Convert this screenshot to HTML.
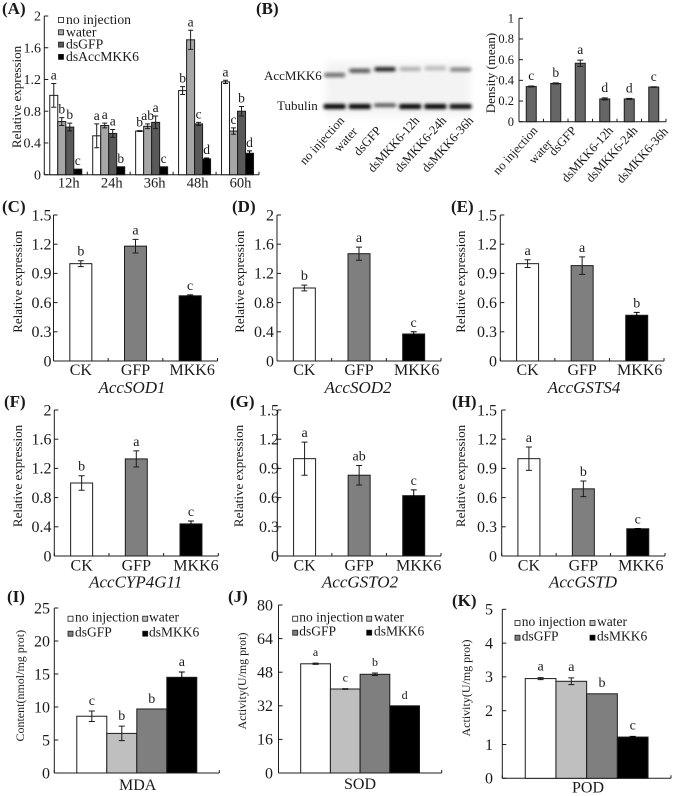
<!DOCTYPE html>
<html>
<head>
<meta charset="utf-8">
<title>AccMKK6 figure</title>
<style>
html,body{margin:0;padding:0;background:#fff;width:674px;height:796px;overflow:hidden}
svg{display:block;filter:blur(0.35px)}
text{font-family:"Liberation Serif",serif;fill:#1a1a1a}
.pl{font-weight:bold;font-size:17px}
</style>
</head>
<body>
<svg id="fig" xmlns="http://www.w3.org/2000/svg" width="674" height="796" viewBox="0 0 674 796">
<defs>
<filter id="blurBand" x="-30%" y="-150%" width="160%" height="400%"><feGaussianBlur stdDeviation="1.5"/></filter>
<filter id="blurBg" x="-10%" y="-30%" width="120%" height="160%"><feGaussianBlur stdDeviation="4"/></filter>
</defs>
<text class="pl" x="2" y="14">(A)</text>
<text class="pl" x="256" y="14">(B)</text>
<text class="pl" x="2" y="212">(C)</text>
<text class="pl" x="232" y="212">(D)</text>
<text class="pl" x="451" y="212">(E)</text>
<text class="pl" x="4" y="407">(F)</text>
<text class="pl" x="230" y="407">(G)</text>
<text class="pl" x="452" y="407">(H)</text>
<text class="pl" x="7" y="602">(I)</text>
<text class="pl" x="228" y="602">(J)</text>
<text class="pl" x="452" y="606">(K)</text>
</svg>
<script>
// ---- Panel A data ----
const aCategories = ['12h', '24h', '36h', '48h', '60h'];
const aTicks = ['0', '0.4', '0.8', '1.2', '1.6', '2'];
const aNoInjection = [1.0, 0.49, 0.55, 1.06, 1.17];
const aWater = [0.67, 0.62, 0.61, 1.7, 0.55];
const aDsGFP = [0.6, 0.52, 0.66, 0.64, 0.8];
const aDsMKK6 = [0.07, 0.1, 0.1, 0.2, 0.27];
const aNoInjectionErr = [0.15, 0.15, 0.005, 0.05, 0.02];
const aWaterErr = [0.05, 0.03, 0.03, 0.12, 0.04];
const aDsGFPErr = [0.05, 0.05, 0.08, 0.02, 0.06];
const aDsMKK6Err = [0, 0, 0, 0.01, 0.03];
const aNoInjectionLetters = ['a', 'a', 'b', 'b', 'a'];
const aWaterLetters = ['b', 'a', 'ab', 'a', 'c'];
const aDsGFPLetters = ['b', 'a', 'a', 'c', 'b'];
const aDsMKK6Letters = ['c', 'b', 'c', 'd', 'd'];
// ---- Panel B data ----
const bCategories = ['no injection', 'water', 'dsGFP', 'dsMKK6-12h', 'dsMKK6-24h', 'dsMKK6-36h'];
const bTicks = ['0', '0.2', '0.4', '0.6', '0.8', '1'];
const bValues = [0.34, 0.37, 0.565, 0.22, 0.22, 0.335];
const bErrors = [0.005, 0.005, 0.03, 0.01, 0.005, 0.003];
const bLetters = ['c', 'b', 'a', 'd', 'd', 'c'];
const blotTargetDensity = [0.62, 0.72, 1, 0.3, 0.26, 0.5];
const blotTubulinDensity = [1, 1, 0.7, 1, 1, 0.95];
// ---- Panels C-H data ----
const geneCategories = ['CK', 'GFP', 'MKK6'];
const ticks15 = ['0', '0.3', '0.6', '0.9', '1.2', '1.5'];
const ticks2 = ['0', '0.4', '0.8', '1.2', '1.6', '2'];
const cValues = [1.0, 1.18, 0.67];
const cErrors = [0.03, 0.07, 0.01];
const cLetters = ['b', 'a', 'c'];
const dValues = [1.0, 1.47, 0.37];
const dErrors = [0.04, 0.09, 0.03];
const dLetters = ['b', 'a', 'c'];
const eValues = [1.0, 0.98, 0.47];
const eErrors = [0.04, 0.09, 0.03];
const eLetters = ['a', 'a', 'b'];
const fValues = [1.0, 1.33, 0.44];
const fErrors = [0.1, 0.11, 0.04];
const fLetters = ['b', 'a', 'c'];
const gValues = [1.0, 0.83, 0.62];
const gErrors = [0.17, 0.1, 0.06];
const gLetters = ['a', 'ab', 'c'];
const hValues = [1.0, 0.69, 0.28];
const hErrors = [0.12, 0.08, 0.003];
const hLetters = ['a', 'b', 'c'];
// ---- Panels I-K data ----
const enzymeLegend = ['no injection', 'water', 'dsGFP', 'dsMKK6'];
const iTicks = ['0', '5', '10', '15', '20', '25'];
const iValues = [8.6, 6.0, 9.7, 14.5];
const iErrors = [0.8, 1.1, 0, 0.8];
const iLetters = ['c', 'b', 'b', 'a'];
const jTicks = ['0', '16', '32', '48', '64', '80'];
const jValues = [52, 40, 47, 32];
const jErrors = [0.3, 0.2, 0.6, 0];
const jLetters = ['a', 'c', 'b', 'd'];
const kTicks = ['0', '1', '2', '3', '4', '5'];
const kValues = [2.95, 2.87, 2.5, 1.22];
const kErrors = [0.03, 0.1, 0, 0.02];
const kLetters = ['a', 'a', 'b', 'c'];
const aLegend = ['no injection', 'water', 'dsGFP', 'dsAccMKK6'];

const fig = document.getElementById('fig');
function mk(tag, attrs, txt) {
  const n = document.createElementNS('http://www.w3.org/2000/svg', tag);
  for (const k in attrs) n.setAttribute(k, attrs[k]);
  if (txt !== undefined) n.textContent = txt;
  fig.appendChild(n);
  return n;
}
const INK = '#1c1c1c';

function drawAxes(p) {
  const yScale = v => p.y0 - v / parseFloat(p.ticks[p.ticks.length - 1]) * (p.y0 - p.yTop);
  const bandW = (p.xR - p.xL) / p.cats;
  let el = mk('line', {x1: p.xL, x2: p.xL, y1: p.yTop, y2: p.y0, stroke: INK, 'stroke-width': 1});
  
  
  el = mk('line', {x1: p.xL, x2: p.xR, y1: p.y0, y2: p.y0, stroke: INK, 'stroke-width': 1});
  
  
  p.ticks.forEach(t => {
    const y = yScale(parseFloat(t));
    let m = mk('line', {x1: p.xL, x2: p.xL + 4, y1: y, y2: y, stroke: INK, 'stroke-width': 1});
    
    
    m = mk('text', {x: p.tickRight, y: y + p.tickFont * 0.33, 'font-size': p.tickFont, 'text-anchor': 'end'}, t);
    
    
  });
  for (let i = 0; i <= p.cats; i++) {
    const x = p.xL + i * bandW;
    const m = mk('line', {x1: x, x2: x, y1: p.y0 - 3, y2: p.y0, stroke: INK, 'stroke-width': 1});
    
    
  }
  const title = mk('text', {x: 0, y: 0, 'font-size': p.titleFont, 'text-anchor': 'middle',
    transform: 'translate(' + p.titleX + ',' + p.titleY + ') rotate(-90)'}, p.title);
  
  
  return {yScale, bandW};
}

function drawBar(p, s, x, w, value, err, letter, fill) {
  const top = s.yScale(value);
  let el = mk('rect', {x: x, y: top, width: w, height: p.y0 - top, fill: fill, stroke: INK, 'stroke-width': 1});
  
  
  const cx = x + w / 2, capW = p.cap;
  const eTop = s.yScale(value + err), eBot = s.yScale(value - err);
  if (err > 0) {
    const col = fill === '#000' ? '#000' : INK;
    el = mk('path', {d: 'M' + (cx - capW) + ' ' + eTop + 'H' + (cx + capW) + 'M' + cx + ' ' + eTop + 'V' + eBot +
      'M' + (cx - capW) + ' ' + eBot + 'H' + (cx + capW), stroke: col, 'stroke-width': 1, fill: 'none'});
    
    
  }
  el = mk('text', {x: cx, y: eTop - p.letterGap, 'font-size': p.letterFont, 'text-anchor': 'middle'}, letter);
  
  
}

// Panel with one bar in each category (B-H)
function drawSingle(p, categories, values, errors, letters, fills) {
  const s = drawAxes(Object.assign({cats: categories.length}, p));
  values.forEach((v, i) => {
    const cx = p.xL + (i + 0.5) * s.bandW;
    drawBar(p, s, cx - p.barW / 2, p.barW, v, errors[i], letters[i], fills[i]);
    if (p.rotated) {
      const t = mk('text', {x: 0, y: 0, 'font-size': 12.6, 'text-anchor': 'end',
        transform: 'translate(' + (cx + p.rotated[i]) + ',' + p.rotatedY[i] + ') rotate(-48)'}, categories[i]);
      
      
    } else {
      const t = mk('text', {x: cx + (i === categories.length - 1 ? p.lastDx : 0), y: p.labelY, 'font-size': 16, 'text-anchor': 'middle'}, categories[i]);
      
      
    }
  });
  if (p.geneName) {
    const g = mk('text', {x: p.geneX, y: p.geneY, 'font-size': 17, 'font-style': 'italic', 'text-anchor': 'middle'}, p.geneName);
    
    
  }
}

// Panel with one category and four adjacent bars (I-K)
function drawEnzyme(p, values, errors, letters, fills) {
  const s = drawAxes(Object.assign({cats: 1}, p));
  const center = (p.xL + p.xR) / 2, start = center - p.barW * values.length / 2;
  values.forEach((v, i) => drawBar(p, s, start + i * p.barW, p.barW, v, errors[i], letters[i], fills[i]));
  const t = mk('text', {x: p.labelX, y: p.labelY, 'font-size': 16, 'text-anchor': 'middle'}, p.label);
  
  
}

function legendEntry(label, sx, sy, tx, ty, size, fill, font) {
  let el = mk('rect', {x: sx, y: sy, width: size, height: size, fill: fill, stroke: INK, 'stroke-width': 0.8});
  
  
  el = mk('text', {x: tx, y: ty, 'font-size': font}, label);
  
  
}

// ---- Panel A ----
(function () {
  const p = {cats: aCategories.length, xL: 44.3, xR: 259, y0: 174.7, yTop: 16, ticks: aTicks, tickRight: 41, tickFont: 14,
    title: 'Relative expression', titleX: 21, titleY: 97, titleFont: 13, barW: 8, cap: 2.5, letterGap: 4, letterFont: 13.5};
  const s = drawAxes(p);
  const series = [aNoInjection, aWater, aDsGFP, aDsMKK6];
  const errs = [aNoInjectionErr, aWaterErr, aDsGFPErr, aDsMKK6Err];
  const lets = [aNoInjectionLetters, aWaterLetters, aDsGFPLetters, aDsMKK6Letters];
  const fills = ['#fff', '#a6a6a6', '#595959', '#000'];
  aCategories.forEach((c, g) => {
    const cx = p.xL + (g + 0.5) * s.bandW;
    series.forEach((vals, b) => {
      drawBar(p, s, cx - 16 + b * p.barW, p.barW, vals[g], errs[b][g], lets[b][g], fills[b]);
    });
    const t = mk('text', {x: cx + 3, y: 187.5, 'font-size': 14.5, 'text-anchor': 'middle'}, c);
    
    
  });
  aLegend.forEach((l, i) => legendEntry(l, 58.5, 17.5 + i * 12.3, 66, 24 + i * 12.3, 5, fills[i], 13.7));
})();

// ---- Panel B ----
(function () {
  // western blot
  let bg = mk('rect', {x: 326, y: 62, width: 144, height: 54, fill: '#f3f3f3', filter: 'url(#blurBg)'});
  
  
  const laneW = 25.2, laneX = 322, targetDy = [75, 70.7, 69.3, 69, 68.3, 69.5];
  blotTargetDensity.forEach((d, i) => {
    const b = mk('rect', {x: laneX + i * laneW + 2, y: targetDy[i] - 2, width: laneW - 4, height: 4, rx: 2, fill: '#111', opacity: d, filter: 'url(#blurBand)'});
    
    
  });
  blotTubulinDensity.forEach((d, i) => {
    const b = mk('rect', {x: laneX + i * laneW + 1.5, y: i === 2 ? 103.5 : 104, width: laneW - 3, height: i === 2 ? 3.5 : 5, rx: 2, fill: '#000', opacity: d, filter: 'url(#blurBand)'});
    
    
  });
  let lab = mk('text', {x: 264, y: 80, 'font-size': 13}, 'AccMKK6');
  
  
  lab = mk('text', {x: 277, y: 110, 'font-size': 13}, 'Tubulin');
  
  
  const blotLabelX = [345, 358, 382, 420, 447, 474];
  const blotLabelY = [121, 132, 131, 121, 121, 121];
  bCategories.forEach((c, i) => {
    const t = mk('text', {x: 0, y: 0, 'font-size': 12.6, 'text-anchor': 'end',
      transform: 'translate(' + blotLabelX[i] + ',' + blotLabelY[i] + ') rotate(-48)'}, c);
    
    
  });
  drawSingle({xL: 519, xR: 666, y0: 121.7, yTop: 18.3, ticks: bTicks, tickRight: 514, tickFont: 12.5,
    title: 'Density (mean)', titleX: 495, titleY: 73, titleFont: 13, barW: 10, cap: 3, letterGap: 6, letterFont: 13.5,
    rotated: [7, -3, -3, 9, 9, 15], rotatedY: [131, 144, 131, 131, 131, 132]},
    bCategories, bValues, bErrors, bLetters, bCategories.map(() => '#666'));
})();

// ---- Panels C-H ----
const geneFills = ['#fff', '#7f7f7f', '#000'];
function genePanel(xL, xR, yTop, y0, ticks, titleX, titleY, labelY, geneName, geneX, geneY, lastDx, tickRight, vals, errs, lets) {
  drawSingle({xL, xR, y0, yTop, ticks, tickRight, tickFont: 16, title: 'Relative expression', titleX, titleY, titleFont: 13,
    barW: 22, cap: 3, letterGap: 5, letterFont: 14, labelY, geneName, geneX, geneY, lastDx},
    geneCategories, vals, errs, lets, geneFills);
}
genePanel(53.5, 217.5, 215, 361, ticks15, 22, 281.7, 375, 'AccSOD1', 132, 393, 2, 51.5, cValues, cErrors, cLetters);
genePanel(277, 441, 215, 361, ticks2, 244, 281.7, 375, 'AccSOD2', 358, 393, 3, 274, dValues, dErrors, dLetters);
genePanel(500.3, 664, 215, 361, ticks15, 465, 281.7, 375, 'AccGSTS4', 584, 393, 3, 497, eValues, eErrors, eLetters);
genePanel(54.3, 218.3, 410, 556, ticks2, 22, 476, 570.5, 'AccCYP4G11', 135.7, 587.7, 5, 51.5, fValues, fErrors, fLetters);
genePanel(277.3, 441, 410, 556, ticks15, 243, 476, 570.5, 'AccGSTO2', 360, 587.7, 5, 279, gValues, gErrors, gLetters);
genePanel(501.7, 665, 410, 556, ticks15, 465, 476, 570.5, 'AccGSTD', 583, 587.7, 3, 497, hValues, hErrors, hLetters);

// ---- Panels I-K ----
const enzymeFills = ['#fff', '#bfbfbf', '#7f7f7f', '#000'];
drawEnzyme({xL: 54.3, xR: 219.3, y0: 773, yTop: 608, ticks: iTicks, tickRight: 50, tickFont: 16,
  title: 'Content(nmol/mg prot)', titleX: 24, titleY: 685.7, titleFont: 12, barW: 30, cap: 3, letterGap: 6, letterFont: 14,
  label: 'MDA', labelX: 137.7, labelY: 790}, iValues, iErrors, iLetters, enzymeFills);
drawEnzyme({xL: 278.5, xR: 441.7, y0: 773, yTop: 605, ticks: jTicks, tickRight: 273, tickFont: 16,
  title: 'Activity(U/mg prot)', titleX: 246, titleY: 681, titleFont: 12, barW: 29.7, cap: 3, letterGap: 7, letterFont: 12,
  label: 'SOD', labelX: 360, labelY: 789}, jValues, jErrors, jLetters, enzymeFills);
drawEnzyme({xL: 502.3, xR: 671, y0: 778.3, yTop: 609.3, ticks: kTicks, tickRight: 493, tickFont: 16,
  title: 'Activity(U/mg prot)', titleX: 470, titleY: 688, titleFont: 12, barW: 30.7, cap: 3, letterGap: 7, letterFont: 14,
  label: 'POD', labelX: 588, labelY: 792.7}, kValues, kErrors, kLetters, enzymeFills);

const legendCols = [[68, 75, 142.7, 149, 621.7, 636.7], [292.7, 299.3, 366.7, 374, 621.7, 635.7], [515, 521.7, 590, 597, 626, 640.7]];
legendCols.forEach(c => {
  enzymeLegend.forEach((l, i) => {
    const sx = i % 2 ? c[2] : c[0], tx = i % 2 ? c[3] : c[1], ty = i < 2 ? c[4] : c[5];
    legendEntry(l, sx, ty - 5.5, tx, ty, 5, enzymeFills[i], 13.5);
  });
});
</script>
</body>
</html>
